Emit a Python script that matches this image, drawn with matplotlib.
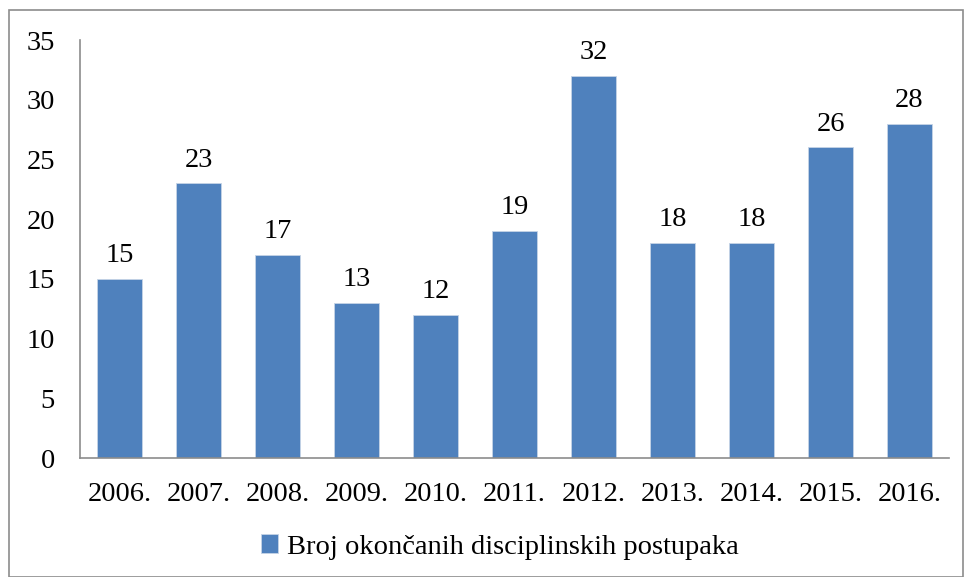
import matplotlib
matplotlib.use("Agg")
import matplotlib.pyplot as plt
from matplotlib.patches import Rectangle

categories = ["2006.", "2007.", "2008.", "2009.", "2010.", "2011.", "2012.", "2013.", "2014.", "2015.", "2016."]
values = [15, 23, 17, 13, 12, 19, 32, 18, 18, 26, 28]
series_name = "Broj okončanih disciplinskih postupaka"
yticks = [0, 5, 10, 15, 20, 25, 30, 35]

plt.rcParams['font.family'] = ['Liberation Serif', 'DejaVu Serif']
color = '#4F81BD'
fs = 20.5

fig = plt.figure(figsize=(9.65, 5.77), dpi=100)
fig.patches.append(Rectangle((9/965, 0.0), (963-9)/965, 1 - 10/577, transform=fig.transFigure,
                             fill=False, edgecolor='#8c8c8c', linewidth=1.2))
ax = fig.add_axes([80/965, 1 - 458/577, (949-80)/965, (458-40)/577])
x = range(len(categories))
bars = ax.bar(x, values, width=0.57, color=color, edgecolor='#c6d4e6', linewidth=0.6, label=series_name)
for xi, v in zip(x, values):
    ax.text(xi, v + 0.9, str(v), ha='center', va='bottom', fontsize=fs)
ax.set_xlim(-0.5, len(categories) - 0.5)
ax.set_ylim(0, 35)
ax.set_yticks(yticks)
ax.set_xticks(list(x))
ax.set_xticklabels(categories, fontsize=fs)
ax.tick_params(axis='y', labelsize=fs, length=0, pad=18)
ax.tick_params(axis='x', length=0, pad=17)
for s in ['top', 'right']:
    ax.spines[s].set_visible(False)
for s in ['left', 'bottom']:
    ax.spines[s].set_color('#8c8c8c')
    ax.spines[s].set_linewidth(1.2)
leg = fig.legend(handles=[bars], labels=[series_name], loc='center', bbox_to_anchor=(500/965, 1 - 547/577),
                 frameon=False, fontsize=fs, handlelength=0.6, handleheight=0.6, handletextpad=0.3)
fig.savefig("out.png", dpi=100)
